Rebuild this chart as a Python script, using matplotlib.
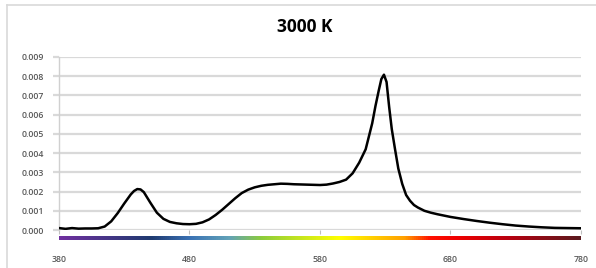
import matplotlib
matplotlib.use('Agg')
import matplotlib.pyplot as plt
import numpy as np
from matplotlib.colors import LinearSegmentedColormap
from matplotlib.lines import Line2D

title = '3000 K'

wavelength = [380, 385, 390, 395, 400, 405, 410, 415, 420, 425, 430, 435, 437.5,
              440, 442.5, 445, 450, 455, 460, 465, 470, 475, 480, 485, 490, 495,
              500, 505, 510, 515, 520, 525, 530, 535, 540, 545, 550, 555, 560, 565,
              570, 575, 580, 585, 590, 595, 600, 605, 610, 615, 620, 622.5, 625,
              627, 629, 631, 633, 635, 637.5, 640, 643, 646, 649, 652, 655, 660,
              665, 670, 675, 680, 690, 700, 710, 720, 730, 740, 750, 760, 770, 780]
power = [0.00010, 0.00006, 0.00010, 0.00007, 0.00008, 0.00008, 0.00009, 0.00018,
         0.00045, 0.00088, 0.00138, 0.00185, 0.00203, 0.00213, 0.00211, 0.00197,
         0.00142, 0.00090, 0.00058, 0.00042, 0.00035, 0.00031, 0.00030, 0.00032,
         0.00040, 0.00055, 0.00078, 0.00105, 0.00135, 0.00165, 0.00192, 0.00210,
         0.00222, 0.00230, 0.00235, 0.00238, 0.00241, 0.00240, 0.00238, 0.00237,
         0.00236, 0.00235, 0.00234, 0.00236, 0.00242, 0.00250, 0.00262, 0.00295,
         0.00350, 0.00420, 0.00555, 0.00645, 0.00725, 0.00785, 0.00808, 0.00770,
         0.00640, 0.00525, 0.00420, 0.00320, 0.00240, 0.00182, 0.00152, 0.00130,
         0.00117, 0.00100, 0.00090, 0.00082, 0.00075, 0.00068, 0.00057, 0.00047,
         0.00038, 0.00030, 0.00023, 0.00018, 0.00014, 0.00011, 0.00010, 0.00009]

y_ticks = [0.000, 0.001, 0.002, 0.003, 0.004, 0.005, 0.006, 0.007, 0.008, 0.009]
x_ticks = [380, 480, 580, 680, 780]

# spectrum strip under the axis
spec_pos = [380, 450, 480, 510, 535, 595, 645, 665, 685, 725, 780]
spec_col = ['#7030a0', '#1f3a70', '#3a72b4', '#62a2b8', '#8ccc3c', '#ffff00',
            '#ffa000', '#ff1000', '#f00000', '#b80010', '#5a1a1e']

fig = plt.figure(figsize=(5.96, 2.68), dpi=100)
W, H = 596, 268

# outer chart frame (cropped)
fig.add_artist(Line2D([7 / W, 1], [1 - 5 / H, 1 - 5 / H], color='#d9d9d9', lw=1.2))
fig.add_artist(Line2D([7 / W, 7 / W], [0, 1 - 5 / H], color='#d9d9d9', lw=1.2))

ax = fig.add_axes([59 / W, 38 / H, 522 / W, 173 / H])
ax.plot(wavelength, power, color='black', lw=1.8, solid_joinstyle='round',
        solid_capstyle='round', zorder=3)
ax.set_xlim(380, 780)
ax.set_ylim(0, 0.009)
ax.set_yticks(y_ticks)
ax.set_yticklabels([f'{v:.3f}' for v in y_ticks])
ax.set_xticks(x_ticks)
ax.set_xticklabels([str(v) for v in x_ticks])
ax.grid(axis='y', color='#d9d9d9', lw=1.6)
ax.set_axisbelow(True)
for s in ['top', 'right', 'bottom']:
    ax.spines[s].set_visible(False)
ax.spines['left'].set_color('#d0d0d0')
ax.spines['left'].set_linewidth(1.0)
ax.tick_params(axis='y', length=4, width=1.6, color='#d9d9d9', pad=7,
               labelsize=6.3, labelcolor='#595959')
ax.tick_params(axis='x', length=3, width=0.8, color='#bfbfbf', pad=15,
               labelsize=6.3, labelcolor='#595959')
for lab in ax.get_xticklabels() + ax.get_yticklabels():
    lab.set_fontfamily('Open Sans')
    lab.set_fontweight('semibold')

fig.text(305 / W, 1 - 27 / H, title, ha='center', va='center',
         fontsize=12.5, fontweight='bold', family='Open Sans', color='black')

cmap = LinearSegmentedColormap.from_list(
    'spec', [((p - 380) / 400, c) for p, c in zip(spec_pos, spec_col)])
cax = fig.add_axes([59 / W, (H - 240) / H, 522 / W, 4 / H])
cax.imshow(np.linspace(0, 1, 512)[None, :], aspect='auto', cmap=cmap,
           extent=[380, 780, 0, 1])
cax.axis('off')

fig.savefig('out.png', dpi=100)
